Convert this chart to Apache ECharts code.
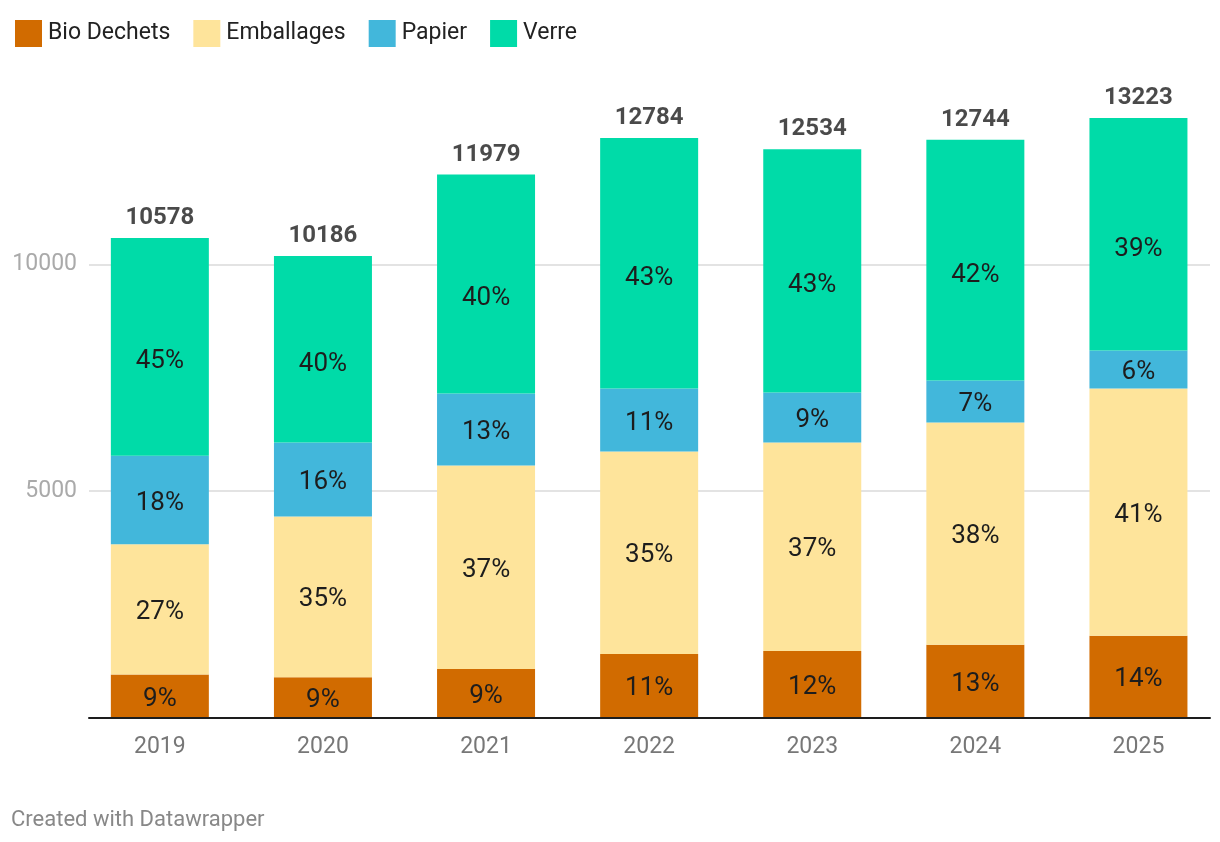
<!DOCTYPE html>
<html>
<head>
<meta charset="utf-8">
<style>
html,body{margin:0;padding:0;background:#fff;}
#chart{width:1220px;height:842px;}
#footer{position:absolute;left:11px;top:806px;font-family:Roboto,sans-serif;font-size:22px;color:#888;}
</style>
<script src="https://cdn.jsdelivr.net/npm/echarts@6/dist/echarts.min.js"></script>
</head>
<body>
<div id="chart"></div>
<div id="footer">Created with Datawrapper</div>
<script>
const years = ['2019','2020','2021','2022','2023','2024','2025'];
const seriesNames = ['Bio Dechets','Emballages','Papier','Verre'];
const bioDechets = [960, 900, 1082, 1413, 1479, 1612, 1811];
const emballages = [2870, 3540, 4482, 4460, 4593, 4902, 5453];
const papier = [1950, 1632, 1590, 1391, 1104, 927, 839];
const verre = [4798, 4114, 4825, 5520, 5358, 5303, 5120];
const yTicks = [0, 5000, 10000, 15000];

const colors = ['#d16b00','#fee49b','#42b7db','#00dba8'];
const allData = [bioDechets, emballages, papier, verre];
const totals = years.map((_, i) => allData.reduce((s, arr) => s + arr[i], 0));

const chart = echarts.init(document.getElementById('chart'));
const font = 'Roboto, sans-serif';

const barSeries = allData.map((arr, k) => ({
  name: seriesNames[k],
  type: 'bar',
  stack: 'total',
  xAxisIndex: 0,
  yAxisIndex: 0,
  barWidth: 98,
  data: arr,
  itemStyle: {color: colors[k]},
  label: {
    show: true,
    position: 'inside',
    offset: k === 3 ? [0, 15] : [0, 3],
    fontFamily: font,
    fontSize: 26,
    color: '#1d1d1d',
    formatter: p => Math.round(p.value / totals[p.dataIndex] * 100) + '%'
  },
  emphasis: {disabled: true},
  animation: false
}));

const option = {
  animation: false,
  color: colors,
  legend: {
    left: 10,
    top: 15,
    itemWidth: 27,
    itemHeight: 27,
    itemGap: 23,
    icon: 'rect',
    data: seriesNames,
    textStyle: {fontFamily: font, fontSize: 23, color: '#222', padding: [0, 0, 0, 1]},
    selectedMode: false
  },
  grid: [
    {left: 78.3, right: -1.7, top: 37.5, bottom: 124},
    {left: 89, right: 10, top: 37.5, bottom: 124}
  ],
  xAxis: [
    {
      type: 'category', gridIndex: 0, data: years,
      axisLine: {show: false}, axisTick: {show: false},
      axisLabel: {fontFamily: font, fontSize: 23, color: '#777', margin: 18}
    },
    {
      type: 'category', gridIndex: 1, data: years,
      axisLine: {show: true, lineStyle: {color: '#1d1d1d', width: 2}},
      axisTick: {show: false}, axisLabel: {show: false}, z: 10
    }
  ],
  yAxis: [
    {
      type: 'value', gridIndex: 0, min: yTicks[0], max: yTicks[yTicks.length - 1], interval: yTicks[1] - yTicks[0],
      show: false, splitLine: {show: false}
    },
    {
      type: 'value', gridIndex: 1, min: yTicks[0], max: yTicks[yTicks.length - 1], interval: yTicks[1] - yTicks[0],
      axisLine: {show: false}, axisTick: {show: false},
      axisLabel: {fontFamily: font, fontSize: 23, color: '#aaa', margin: 12, showMinLabel: false, showMaxLabel: false,
        formatter: v => String(v)},
      splitLine: {show: true, showMinLine: false, showMaxLine: false, lineStyle: {color: '#e3e3e3', width: 2}}
    }
  ],
  series: [
    ...barSeries,
    {
      name: 'total',
      type: 'scatter',
      xAxisIndex: 0,
      yAxisIndex: 0,
      symbolSize: 0,
      data: totals,
      label: {
        show: true,
        position: 'top',
        distance: 8,
        fontFamily: font,
        fontSize: 24,
        fontWeight: 'bold',
        color: '#1d1d1d',
        formatter: p => String(p.value)
      },
      emphasis: {disabled: true},
      z: 5
    }
  ]
};
chart.setOption(option);
</script>
</body>
</html>
